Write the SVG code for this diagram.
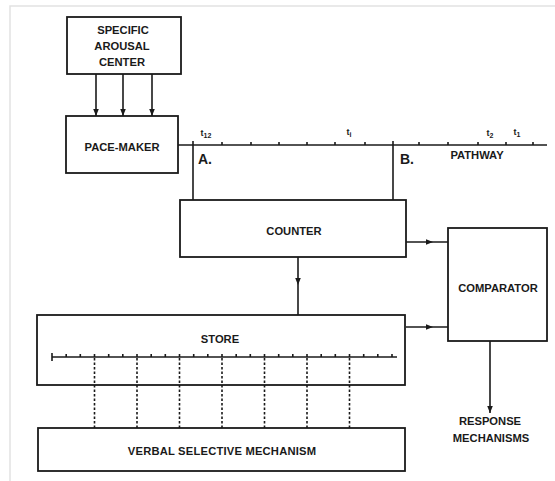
<svg xmlns="http://www.w3.org/2000/svg" width="555" height="481" viewBox="0 0 555 481">
<style>
.box{fill:#fff;stroke:#1a1a1a;stroke-width:1.8}
.ln{fill:none;stroke:#1a1a1a;stroke-width:1.6}
.tk{fill:none;stroke:#1a1a1a;stroke-width:1.6}
.dash{fill:none;stroke:#1a1a1a;stroke-width:1.6;stroke-dasharray:2.5 2}
.t{font-family:"Liberation Sans",Arial,sans-serif;font-weight:bold;font-size:11.2px;fill:#1a1a1a;text-anchor:middle}
.lab{font-family:"Liberation Sans",Arial,sans-serif;font-weight:bold;font-size:14px;fill:#1a1a1a}
.sm{font-family:"Liberation Sans",Arial,sans-serif;font-weight:bold;font-size:9px;fill:#1a1a1a;text-anchor:middle}
</style>
<defs>
<marker id="ah" viewBox="0 0 10 10" refX="10" refY="5" markerUnits="userSpaceOnUse" markerWidth="9" markerHeight="7" orient="auto">
<path d="M0,1 L10,5 L0,9 z" fill="#1a1a1a"/>
</marker>
</defs>
<rect width="555" height="481" fill="#fff"/>
<path d="M10 481 V6 H555" fill="none" stroke="#e2e2e2" stroke-width="1.5"/>

<g id="arousal">
<rect class="box" x="67" y="17" width="114" height="57"/>
<text class="t" x="123" y="34">SPECIFIC</text>
<text class="t" x="122" y="50">AROUSAL</text>
<text class="t" x="122" y="66">CENTER</text>
</g>

<g id="pacemaker">
<rect class="box" x="66" y="116" width="112" height="57"/>
<text class="t" x="122" y="151">PACE-MAKER</text>
</g>

<g id="pathway">
<path class="ln" d="M178 145 H547"/>
<path class="tk" d="M193 141V145 M222 142V145 M251 142V145 M279 142V145 M307 142V145 M335 142V145 M365 142V145 M393 141V145 M419 142V145 M448 142V145 M478 142V145 M506 142V145 M533 142V145"/>
<text class="sm" x="206" y="136">t<tspan font-size="7" dy="2">12</tspan></text>
<text class="sm" x="349" y="135">t<tspan font-size="7" dy="2">i</tspan></text>
<text class="sm" x="490" y="136">t<tspan font-size="7" dy="2">2</tspan></text>
<text class="sm" x="517" y="135">t<tspan font-size="7" dy="2">1</tspan></text>
<text class="lab" x="198" y="164">A.</text>
<text class="lab" x="400" y="164">B.</text>
<text class="t" x="477" y="159">PATHWAY</text>
</g>

<g id="counter">
<rect class="box" x="180" y="200" width="226" height="57"/>
<text class="t" x="294" y="235">COUNTER</text>
</g>

<g id="comparator">
<rect class="box" x="448" y="228" width="99" height="113"/>
<text class="t" x="498" y="292">COMPARATOR</text>
</g>

<g id="store">
<rect class="box" x="37" y="315" width="368" height="70"/>
<text class="t" x="220" y="343">STORE</text>
<path class="ln" d="M52 357 H397"/>
<path class="tk" d="M52 353V361 M66.2 354V357 M80.3 354V357 M94.5 354V357 M108.7 354V357 M122.8 354V357 M137 354V357 M151.2 354V357 M165.3 354V357 M179.5 354V357 M193.7 354V357 M207.8 354V357 M222 354V357 M236.2 354V357 M250.3 354V357 M264.5 354V357 M278.7 354V357 M292.8 354V357 M307 354V357 M321.2 354V357 M335.3 354V357 M349.5 354V357 M363.7 354V357 M377.8 354V357 M392 354V357"/>
</g>

<g id="verbal">
<rect class="box" x="38" y="428" width="367" height="43"/>
<text class="t" x="222" y="455" letter-spacing="0.2">VERBAL SELECTIVE MECHANISM</text>
</g>

<g id="response">
<text class="t" x="490" y="425">RESPONSE</text>
<text class="t" x="491" y="442">MECHANISMS</text>
</g>

<g id="connectors">
<path class="ln" d="M96 74 V116" marker-end="url(#ah)"/>
<path class="ln" d="M123 74 V116" marker-end="url(#ah)"/>
<path class="ln" d="M152 74 V116" marker-end="url(#ah)"/>
<path class="ln" d="M193 145 V200"/>
<path class="ln" d="M393 145 V200"/>
<path class="ln" d="M406 242 H433 H448" marker-mid="url(#ah)"/>
<path class="ln" d="M406 327 H433 H448" marker-mid="url(#ah)"/>
<path class="ln" d="M298 257 V285 V315" marker-mid="url(#ah)"/>
<path class="ln" d="M490 341 V413" marker-end="url(#ah)"/>
<path class="dash" d="M94.5 358 V428 M137 358 V428 M179.5 358 V428 M222 358 V428 M264.5 358 V428 M307 358 V428 M349.5 358 V428"/>
</g>
</svg>
